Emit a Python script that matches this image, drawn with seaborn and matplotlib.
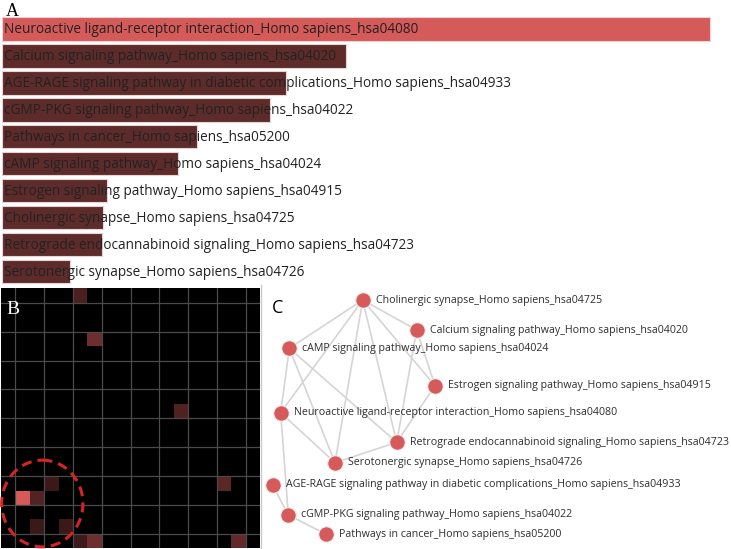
import numpy as np
import pandas as pd
import matplotlib
matplotlib.use('Agg')
import matplotlib.pyplot as plt
import seaborn as sns
from matplotlib.colors import LinearSegmentedColormap
from matplotlib.patches import Ellipse

# ---- panel A: enriched terms, bar length = combined score
terms = [
    'Neuroactive ligand-receptor interaction_Homo sapiens_hsa04080',
    'Calcium signaling pathway_Homo sapiens_hsa04020',
    'AGE-RAGE signaling pathway in diabetic complications_Homo sapiens_hsa04933',
    'cGMP-PKG signaling pathway_Homo sapiens_hsa04022',
    'Pathways in cancer_Homo sapiens_hsa05200',
    'cAMP signaling pathway_Homo sapiens_hsa04024',
    'Estrogen signaling pathway_Homo sapiens_hsa04915',
    'Cholinergic synapse_Homo sapiens_hsa04725',
    'Retrograde endocannabinoid signaling_Homo sapiens_hsa04723',
    'Serotonergic synapse_Homo sapiens_hsa04726',
]
scores = [708, 344, 284, 268, 195, 176, 105, 101, 100, 68]
bar_colors = ['#d55a5a'] + ['#5e2b2b'] * 9

# ---- panel B: lit cells of the term grid
grid_n = 18
cell_rows = [0, 3, 8, 13, 13, 14, 14, 16, 16, 17, 17, 17]
cell_cols = [5, 6, 12, 3, 15, 1, 2, 2, 4, 5, 6, 16]
cell_vals = [0.35, 0.51, 0.37, 0.28, 0.42, 1.0, 0.39, 0.28, 0.28, 0.29, 0.51, 0.45]

# ---- panel C: term network (layout coordinates in pixels)
node_keys = ['chol', 'calc', 'camp', 'estr', 'neuro', 'retro', 'sero', 'age', 'cgmp', 'cancer']
node_names = [
    'Cholinergic synapse_Homo sapiens_hsa04725',
    'Calcium signaling pathway_Homo sapiens_hsa04020',
    'cAMP signaling pathway_Homo sapiens_hsa04024',
    'Estrogen signaling pathway_Homo sapiens_hsa04915',
    'Neuroactive ligand-receptor interaction_Homo sapiens_hsa04080',
    'Retrograde endocannabinoid signaling_Homo sapiens_hsa04723',
    'Serotonergic synapse_Homo sapiens_hsa04726',
    'AGE-RAGE signaling pathway in diabetic complications_Homo sapiens_hsa04933',
    'cGMP-PKG signaling pathway_Homo sapiens_hsa04022',
    'Pathways in cancer_Homo sapiens_hsa05200',
]
node_x = [362.7, 416.7, 289.3, 435.0, 280.7, 396.7, 335.0, 272.7, 288.3, 325.7]
node_y = [300.0, 330.0, 348.3, 385.7, 412.7, 442.3, 462.7, 485.0, 515.0, 534.0]
edges = [
    ('chol', 'camp'), ('chol', 'neuro'), ('chol', 'sero'), ('chol', 'retro'),
    ('chol', 'calc'), ('chol', 'estr'), ('calc', 'estr'), ('calc', 'retro'),
    ('camp', 'neuro'), ('camp', 'sero'), ('camp', 'retro'), ('neuro', 'sero'),
    ('neuro', 'cgmp'), ('estr', 'retro'), ('retro', 'sero'), ('age', 'cgmp'),
    ('cgmp', 'cancer'),
]

W, H = 731, 549


def px_rect(x0, y0, x1, y1):
    return [x0 / W, 1 - y1 / H, (x1 - x0) / W, (y1 - y0) / H]


sns.set_theme(style='white')
plt.rcParams['font.family'] = ['Open Sans', 'DejaVu Sans']

fig = plt.figure(figsize=(W / 100, H / 100), dpi=100)

# A
axA = fig.add_axes(px_rect(2, 15.5, 731, 285))
df = pd.DataFrame({'term': terms, 'score': scores})
sns.barplot(data=df, x='score', y='term', hue='term', palette=bar_colors,
            legend=False, orient='h', width=0.87, saturation=1,
            edgecolor='#e8d2d2', linewidth=0.8, ax=axA)
axA.set_xlim(0, 729)
axA.set_ylim(9.5, -0.5)
axA.axis('off')
for i, t in enumerate(terms):
    axA.text(2.5, i + 0.03, t, va='center', ha='left', fontsize=9.8,
             color='#222222')
fig.text(6 / W, 1 - 15.5 / H, 'A', fontsize=13, family='Liberation Serif',
         color='black', va='baseline')

# B
mat = np.zeros((grid_n, grid_n))
mat[cell_rows, cell_cols] = cell_vals
cmap = LinearSegmentedColormap.from_list('blk_red', ['#000000', '#d65a5a'])
axB = fig.add_axes(px_rect(1, 288.3, 260, 548.3))
sns.heatmap(mat, cmap=cmap, vmin=0, vmax=1, cbar=False,
            xticklabels=False, yticklabels=False, ax=axB)
for k in range(1, grid_n, 2):
    axB.axvline(k, color='#4a4a4a', lw=0.9)
    axB.axhline(k, color='#4a4a4a', lw=0.9)
axB.add_patch(Ellipse((2.87, 14.9), 5.65, 6.0, fill=False, edgecolor='#d42424',
                      lw=2.2, linestyle=(0, (3.3, 2.0)), clip_on=False, zorder=5))
fig.text(6 / W, 1 - 313.5 / H, 'B', fontsize=14, family='Liberation Serif',
         color='white', va='baseline')

# C
axC = fig.add_axes(px_rect(261, 285, 731, 549))
pos = {k: (x, y) for k, x, y in zip(node_keys, node_x, node_y)}
for a, b in edges:
    axC.plot([pos[a][0], pos[b][0]], [pos[a][1], pos[b][1]],
             color='#d5d5d5', lw=1.2, zorder=1)
sns.scatterplot(x=node_x, y=node_y, s=125, color='#d65a5a',
                edgecolor='#eeeeee', linewidth=0.8, ax=axC, zorder=3)
for name, x, y in zip(node_names, node_x, node_y):
    axC.text(x + 13, y, name, va='center', ha='left', fontsize=7.7,
             color='#2e2e2e')
axC.set_xlim(261, 731)
axC.set_ylim(549, 285)
axC.set_xticks([])
axC.set_yticks([])
for side in ['top', 'right', 'bottom']:
    axC.spines[side].set_visible(False)
axC.spines['left'].set_color('#c8c8c8')
axC.spines['left'].set_linewidth(1.0)
fig.text(272 / W, 1 - 313 / H, 'C', fontsize=13, color='black', va='baseline')

fig.savefig('out.png', dpi=100)
